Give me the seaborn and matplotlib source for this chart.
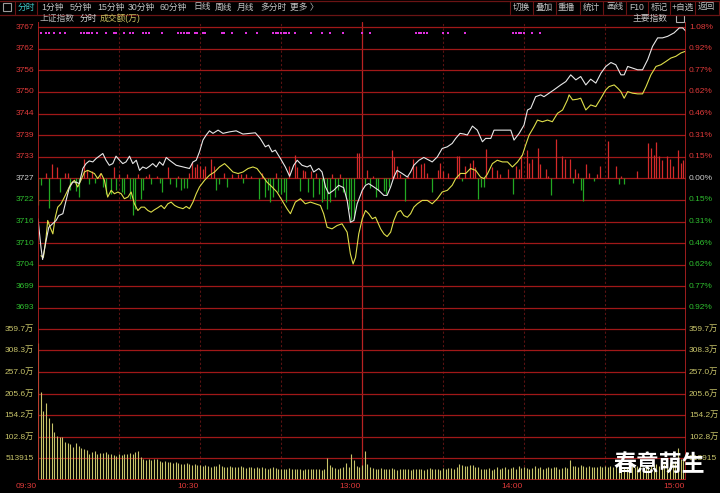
import matplotlib
matplotlib.use("Agg")
import matplotlib.pyplot as plt
from matplotlib.lines import Line2D
from matplotlib.patches import Rectangle
import seaborn as sns

# ---- values (上证指数 分时, minutes after 09:30) ----
white_min = [0.0, 1.1, 1.7, 3.0, 4.0, 5.5, 6.7, 7.7, 9.2, 10.4, 11.6, 12.9, 14.1, 15.3, 16.6, 17.8, 19.0, 20.3,
             21.5, 22.7, 24.0, 25.2, 26.4, 27.7, 28.9, 30.2, 31.4, 32.6, 33.9, 35.1, 36.4, 37.6, 38.8, 40.1,
             41.3, 42.5, 43.8, 45.0, 46.3, 47.5, 48.7, 50.0, 51.2, 53.7, 56.1, 57.4, 58.6, 59.8, 61.1, 62.3,
             63.5, 64.8, 66.7, 68.5, 71.0, 73.4, 75.9, 78.4, 80.5, 82.3, 84.2, 85.4, 86.7, 87.9, 89.8, 91.6,
             93.2, 94.7, 96.0, 97.8, 99.7, 100.9, 102.1, 104.0, 105.2, 106.5, 107.7, 109.5, 111.4, 113.2,
             114.5, 115.7, 117.0, 118.2, 120.1, 121.3, 122.5, 124.4, 126.2, 128.1, 129.3, 130.6, 131.8,
             133.0, 134.9, 136.8, 138.0, 139.2, 141.1, 142.9, 144.8, 146.0, 147.9, 149.7, 151.6, 153.4,
             154.7, 156.3, 157.8, 159.0, 160.9, 162.7, 164.6, 165.8, 167.7, 168.9, 170.7, 172.6, 175.1,
             176.3, 178.2, 180.0, 181.3, 182.5, 184.3, 186.2, 187.4, 189.3, 191.1, 193.6, 195.5, 197.3,
             199.2, 201.0, 202.9, 204.7, 206.6, 208.5, 210.3, 212.2, 214.0, 215.9, 217.1, 218.4, 220.2,
             222.1, 223.9, 225.8, 227.6, 229.5, 231.3, 233.2, 235.6, 237.5, 238.8, 240.0]
white_pct = [-0.289, -0.493, -0.580, -0.445, -0.350, -0.323, -0.301, -0.266, -0.253, -0.158, -0.067, -0.027,
             -0.027, -0.038, 0.070, 0.105, 0.124, 0.117, 0.141, 0.158, 0.177, 0.129, 0.093, 0.105, 0.158,
             0.129, 0.105, 0.117, 0.158, 0.105, 0.129, 0.057, 0.081, 0.070, 0.086, 0.105, 0.081, 0.117,
             0.093, 0.149, 0.129, 0.110, 0.093, 0.081, 0.070, 0.117, 0.129, 0.189, 0.273, 0.309, 0.339,
             0.321, 0.344, 0.321, 0.332, 0.339, 0.316, 0.321, 0.325, 0.285, 0.225, 0.237, 0.189, 0.201,
             0.141, 0.081, 0.014, 0.093, 0.129, 0.093, 0.081, 0.093, 0.045, 0.070, 0.045, -0.062, -0.110,
             -0.086, -0.050, -0.067, -0.158, -0.314, -0.301, -0.182, -0.086, -0.050, -0.038, -0.062, -0.086,
             -0.122, -0.122, -0.062, 0.009, 0.057, 0.034, 0.009, 0.045, 0.093, 0.129, 0.149, 0.129, 0.117,
             0.153, 0.213, 0.225, 0.249, 0.285, 0.321, 0.316, 0.309, 0.373, 0.344, 0.261, 0.285, 0.285,
             0.344, 0.344, 0.344, 0.344, 0.273, 0.321, 0.380, 0.488, 0.500, 0.583, 0.596, 0.583, 0.608,
             0.632, 0.667, 0.691, 0.739, 0.703, 0.727, 0.667, 0.708, 0.680, 0.751, 0.799, 0.827, 0.811,
             0.739, 0.739, 0.799, 0.787, 0.775, 0.775, 0.847, 0.942, 1.003, 1.003, 1.014, 1.039, 1.074,
             1.074, 1.050]

yellow_min = [1.1, 2.0, 3.0, 3.6, 4.5, 5.5, 6.4, 7.3, 8.5, 9.8, 11.0, 12.2, 13.5, 14.7, 15.9, 17.2, 18.4, 19.7,
              20.9, 22.1, 23.4, 24.6, 25.8, 27.1, 28.3, 29.6, 30.8, 32.0, 33.3, 34.5, 35.7, 37.0, 38.2, 39.4,
              40.7, 41.9, 43.1, 44.4, 45.6, 46.8, 48.1, 49.3, 50.6, 51.8, 53.7, 54.9, 56.1, 57.4, 58.6, 59.8,
              61.7, 63.5, 65.4, 67.2, 69.1, 70.4, 72.2, 74.1, 75.9, 77.8, 79.6, 81.1, 83.0, 84.8, 86.7, 88.5,
              90.4, 92.2, 93.5, 95.3, 97.2, 99.0, 100.9, 102.7, 104.6, 105.8, 107.1, 108.9, 110.8, 112.6,
              114.5, 115.7, 116.7, 117.6, 118.8, 120.1, 121.3, 122.5, 123.8, 125.0, 126.9, 128.1, 129.3,
              130.6, 131.8, 133.1, 134.3, 135.5, 136.8, 138.0, 139.2, 140.5, 142.3, 144.2, 146.0, 147.9,
              149.7, 151.6, 153.4, 154.7, 156.5, 158.4, 160.2, 162.1, 163.9, 165.2, 166.4, 168.3, 170.1,
              172.0, 173.9, 175.7, 177.6, 179.4, 180.6, 181.9, 183.7, 185.0, 186.8, 188.7, 190.5, 192.4,
              194.3, 196.1, 196.7, 198.0, 199.8, 201.0, 202.9, 204.7, 206.6, 208.5, 210.3, 211.5, 213.4,
              214.7, 215.9, 217.1, 218.4, 220.2, 222.1, 223.9, 225.2, 227.0, 228.9, 230.7, 232.6, 234.4,
              236.2, 238.1, 239.6]
yellow_pct = [-0.553, -0.565, -0.421, -0.301, -0.350, -0.397, -0.278, -0.206, -0.182, -0.134, -0.086, -0.038,
              -0.014, -0.062, -0.014, 0.045, 0.057, 0.045, 0.034, -0.002, 0.034, -0.014, -0.134, -0.086,
              -0.110, -0.098, -0.110, -0.146, -0.134, -0.098, -0.182, -0.230, -0.206, -0.206, -0.230, -0.242,
              -0.225, -0.210, -0.194, -0.217, -0.182, -0.170, -0.194, -0.206, -0.217, -0.201, -0.217, -0.170,
              -0.110, -0.062, -0.014, 0.022, 0.045, 0.081, 0.105, 0.081, 0.045, 0.034, 0.045, 0.070, 0.081,
              0.070, 0.022, -0.027, -0.062, -0.098, -0.158, -0.217, -0.253, -0.170, -0.146, -0.182, -0.170,
              -0.182, -0.194, -0.253, -0.350, -0.361, -0.337, -0.325, -0.385, -0.540, -0.612, -0.565, -0.397,
              -0.289, -0.230, -0.253, -0.289, -0.278, -0.361, -0.397, -0.416, -0.385, -0.301, -0.242, -0.230,
              -0.266, -0.278, -0.253, -0.206, -0.182, -0.158, -0.158, -0.182, -0.146, -0.098, -0.086, -0.050,
              -0.002, 0.035, 0.034, 0.070, 0.057, 0.009, -0.002, 0.029, 0.105, 0.129, 0.117, 0.117, 0.081,
              0.117, 0.165, 0.237, 0.309, 0.368, 0.416, 0.404, 0.416, 0.404, 0.464, 0.488, 0.560, 0.596,
              0.560, 0.565, 0.572, 0.488, 0.524, 0.512, 0.572, 0.632, 0.655, 0.667, 0.644, 0.619, 0.572,
              0.619, 0.608, 0.603, 0.603, 0.655, 0.739, 0.799, 0.811, 0.835, 0.859, 0.871, 0.895, 0.906]

# red (buy) / green (sell) force bars around the 0.00% line
force_min = [0, 1, 3, 4, 5, 7, 8, 10, 11, 12, 14, 15, 17, 18, 19, 20, 21, 23, 24, 25, 27, 28, 29, 30, 31, 32,
             33, 34, 35, 36, 37, 38, 39, 40, 41, 42, 44, 45, 46, 48, 49, 51, 52, 53, 54, 55, 56, 57, 58, 59,
             60, 61, 62, 64, 65, 66, 67, 69, 70, 72, 74, 75, 76, 77, 79, 82, 83, 84, 85, 86, 87, 88, 89, 90,
             91, 92, 93, 95, 96, 97, 98, 99, 100, 101, 102, 103, 104, 105, 106, 107, 108, 109, 110, 111, 112,
             113, 114, 115, 116, 117, 118, 119, 121, 122, 123, 124, 125, 126, 128, 129, 130, 131, 132, 133,
             134, 136, 137, 139, 140, 142, 143, 144, 146, 148, 149, 150, 152, 155, 156, 157, 158, 160, 161,
             162, 163, 164, 165, 166, 168, 170, 171, 174, 176, 177, 178, 179, 181, 182, 183, 185, 186, 188,
             189, 190, 192, 194, 195, 197, 198, 199, 200, 201, 202, 203, 204, 206, 207, 208, 211, 214, 215,
             216, 217, 222, 226, 227, 228, 229, 230, 231, 233, 234, 235, 237, 238, 239]
force_val = [-0.19, -0.05, 0.04, -0.21, 0.10, 0.08, -0.10, 0.04, 0.04, -0.08, -0.09, -0.13, 0.14, 0.06, -0.04,
             0.05, -0.03, 0.04, -0.06, -0.11, -0.11, 0.08, -0.08, 0.03, -0.10, -0.11, 0.03, -0.15, -0.26,
             -0.22, 0.03, -0.15, -0.08, 0.02, 0.03, -0.04, 0.02, -0.03, -0.10, 0.08, -0.04, -0.06, 0.02,
             -0.08, -0.07, -0.07, 0.04, 0.12, 0.08, 0.10, 0.09, 0.07, 0.09, 0.14, 0.09, -0.08, -0.04, 0.04,
             -0.06, 0.03, 0.03, 0.03, -0.03, 0.03, 0.02, -0.15, 0.04, -0.13, -0.08, -0.17, -0.13, 0.04, -0.10,
             -0.11, -0.10, -0.17, 0.09, 0.17, 0.08, -0.09, 0.06, 0.05, -0.10, 0.05, -0.13, 0.04, -0.11, -0.17,
             -0.15, -0.22, -0.17, 0.03, -0.13, -0.08, 0.03, -0.10, -0.15, -0.22, -0.30, -0.28, 0.18, 0.18,
             -0.04, 0.06, -0.07, 0.02, -0.13, -0.08, -0.09, -0.11, -0.06, 0.20, 0.15, 0.09, 0.03, -0.16, 0.02,
             0.14, 0.09, 0.10, 0.11, 0.04, -0.10, 0.06, 0.11, 0.05, 0.04, 0.16, 0.16, -0.02, 0.09, 0.11, 0.13,
             0.08, -0.15, -0.06, -0.06, 0.21, 0.08, 0.06, 0.03, 0.07, -0.11, 0.09, 0.07, 0.17, 0.20, 0.11,
             0.14, 0.22, 0.10, 0.07, 0.02, -0.12, 0.28, 0.16, 0.14, 0.14, -0.03, 0.07, 0.04, -0.08, -0.16,
             0.10, 0.04, -0.02, 0.03, 0.09, 0.27, 0.09, -0.04, 0.02, -0.04, 0.05, 0.25, 0.22, 0.17, 0.26, 0.16,
             0.13, 0.16, 0.14, 0.09, 0.20, 0.11, 0.13]

# 成交额 per minute, in 万
vol_wan = [327, 210, 163, 184, 147, 135, 115, 105, 102, 103, 91, 87, 86, 79, 87, 81, 75, 73, 71, 63,
           66, 70, 62, 65, 65, 67, 62, 63, 59, 56,
           62, 60, 63, 61, 64, 62, 66, 70, 55, 50, 48, 50, 47, 51, 49, 45, 44, 46, 42, 43,
           41, 42, 40, 39, 38, 40, 37, 36, 38, 36,
           35, 34, 36, 33, 32, 34, 33, 37, 34, 32, 31, 33, 30, 32, 31, 33, 30, 29, 31, 30,
           28, 30, 29, 31, 28, 27, 29, 30, 28, 27,
           26, 27, 25, 28, 26, 27, 25, 26, 24, 26, 25, 27, 26, 25, 27, 24, 26, 52, 35, 30,
           28, 27, 29, 30, 40, 32, 61, 48, 33, 30,
           35, 70, 38, 30, 28, 27, 26, 28, 25, 27, 26, 28, 25, 24, 26, 27, 25, 26, 24, 25,
           27, 26, 25, 24, 26, 28, 27, 26, 25, 24,
           28, 27, 29, 28, 26, 30, 38, 36, 33, 34, 35, 36, 32, 30, 27, 26, 25, 28, 24, 26,
           31, 27, 29, 30, 26, 28, 32, 27, 33, 29,
           30, 28, 27, 29, 33, 28, 30, 27, 29, 31, 28, 30, 32, 27, 29, 30, 28, 48, 34, 33,
           32, 35, 33, 31, 34, 32, 30, 31, 33, 32,
           33, 31, 34, 30, 32, 35, 33, 31, 30, 32, 34, 31, 33, 35, 32, 34, 36, 33, 35, 37,
           34, 36, 38, 40, 42, 39, 45, 75, 50, 48, 117]

# magenta marks along the top edge
dot_min = [1, 3, 4, 6, 8, 10, 16, 17, 18, 19, 20, 22, 25, 28, 29, 32, 34, 35, 39, 40, 41, 46, 52, 53, 54,
           55, 56, 58, 59, 61, 62, 68, 69, 72, 77, 81, 87, 88, 89, 90, 91, 92, 93, 95, 101, 105, 108, 113,
           120, 123, 140, 141, 142, 143, 144, 150, 152, 158, 176, 177, 178, 179, 180, 183, 186]
dot_pct = 1.04

price_labels = ["3693", "3699", "3704", "3710", "3716", "3722", "3727",
                "3733", "3739", "3744", "3750", "3756", "3762", "3767"]
pct_labels = ["0.92%", "0.77%", "0.62%", "0.46%", "0.31%", "0.15%", "0.00%",
              "0.15%", "0.31%", "0.46%", "0.62%", "0.77%", "0.92%", "1.08%"]
vol_labels = ["513915", "102.8万", "154.2万", "205.6万", "257.0万", "308.3万", "359.7万"]
time_ticks = [0, 60, 120, 180, 240]
time_labels = ["09:30", "10:30", "13:00", "14:00", "15:00"]

menu_left = ["分时", "1分钟", "5分钟", "15分钟", "30分钟", "60分钟", "日线", "周线", "月线", "多分时", "更多 〉"]
menu_right = ["切换", "叠加", "重播", "统计", "画线", "F10", "标记", "+自选", "返回"]

# ---- style ----
sns.set_style("dark", {"axes.facecolor": "black", "figure.facecolor": "black"})
plt.rcParams["font.family"] = ["Liberation Sans", "Noto Sans CJK SC", "DejaVu Sans"]

GRID = "#a01818"
RED = "#e03a3a"
GREEN = "#2fbf2f"
GREY = "#cfcfcf"
VOLC = "#c8c46a"

W, H = 720, 493
fig = plt.figure(figsize=(7.2, 4.93), dpi=100, facecolor="black")

step = 1.08 / 7          # percent per grid row
vstep = 51.3915          # 万 per grid row
px_row = 21.6            # pixels per grid row

ax_p = fig.add_axes([38 / W, 1 - 319 / H, 648 / W, (319 - 22) / H])
ax_v = fig.add_axes([38 / W, 1 - 480 / H, 648 / W, 161 / H], sharex=ax_p)

for ax in (ax_p, ax_v):
    ax.set_facecolor("black")
    ax.set_xlim(0, 240)
    for s in ax.spines.values():
        s.set_visible(False)
    ax.tick_params(left=False, bottom=False, labelleft=False, labelbottom=False)
    ax.grid(False)
    for m in (30, 60, 90, 150, 180, 210):
        ax.axvline(m, color="#5a1212", lw=0.8, ls=(0, (2, 2)), zorder=1)
    ax.axvline(120, color="#b82222", lw=0.9, zorder=1)
    ax.axvline(0, color="#b82222", lw=1.2, zorder=5)
    ax.axvline(240, color="#b82222", lw=1.2, zorder=5)

ax_p.set_ylim((178.3 - 319) / px_row * step, (178.3 - 22) / px_row * step)
ax_v.set_ylim(0, 161 / px_row * vstep)

# price panel grid and labels
ytr = ax_p.get_yaxis_transform()
for k, (pl, cl) in enumerate(zip(price_labels, pct_labels)):
    lvl = (k - 6) * step
    ax_p.axhline(lvl, color=GRID, lw=0.9, zorder=1)
    col = RED if k > 6 else (GREY if k == 6 else GREEN)
    ax_p.text(-4 / 648, lvl, pl, transform=ytr, ha="right", va="center", fontsize=6, color=col)
    ax_p.text(1 + 3 / 648, lvl, cl, transform=ytr, ha="left", va="center", fontsize=6, color=col)

# force bars
up_m = [m for m, v in zip(force_min, force_val) if v > 0]
up_v = [v for v in force_val if v > 0]
dn_m = [m for m, v in zip(force_min, force_val) if v < 0]
dn_v = [v for v in force_val if v < 0]
ax_p.vlines(up_m, 0, up_v, color="#d42a2a", lw=0.9, zorder=2)
ax_p.vlines(dn_m, dn_v, 0, color="#22a822", lw=0.9, zorder=2)

# index (white) and average (yellow) lines
sns.lineplot(x=white_min, y=white_pct, ax=ax_p, color="#e8e8e8", lw=0.8, estimator=None, sort=False, zorder=4)
sns.lineplot(x=yellow_min, y=yellow_pct, ax=ax_p, color="#dede4a", lw=0.8, estimator=None, sort=False, zorder=3)

sns.scatterplot(x=dot_min, y=[dot_pct] * len(dot_min), ax=ax_p, marker="s", s=3,
                color="#e030e0", linewidth=0, zorder=4)
ax_p.set_xlabel("")
ax_p.set_ylabel("")

# volume panel
vtr = ax_v.get_yaxis_transform()
for k, lab in enumerate(vol_labels, start=1):
    lvl = k * vstep
    ax_v.axhline(lvl, color=GRID, lw=0.9, zorder=1)
    ax_v.text(-4 / 648, lvl, lab, transform=vtr, ha="right", va="center", fontsize=6, color=VOLC)
    ax_v.text(1 + 3 / 648, lvl, lab, transform=vtr, ha="left", va="center", fontsize=6, color=VOLC)
ax_v.axhline(0, color="#b82222", lw=1.2, zorder=5)
ax_v.vlines(range(len(vol_wan)), 0, vol_wan, color=VOLC, lw=0.8, zorder=2)

xtr = ax_v.get_xaxis_transform()
for m, lab in zip(time_ticks, time_labels):
    ax_v.text(m - 0.5, -6 / 161, lab, transform=xtr, ha="right", va="center", fontsize=6, color=RED)

# ---- header bars ----
def px(x, y):
    return x / W, 1 - y / H

fig.add_artist(Line2D([0, 1], [1 - 14.5 / H] * 2, color="#6a1414", lw=0.9))
fig.add_artist(Line2D([0, 1], [1 - 0.5 / H] * 2, color="#6a1414", lw=0.9))
fig.add_artist(Rectangle(px(3, 11), 8 / W, 8 / H, fill=False, ec="#9a9a9a", lw=0.8))
for x in (15, 37, 510, 533, 556, 580, 603, 626, 648, 670, 695, 719):
    fig.add_artist(Line2D([x / W] * 2, [1 - 14 / H, 1 - 1 / H], color="#6a1414", lw=0.8))

left_x = [18, 41, 70, 97, 128, 160, 193, 215, 237, 260, 290]
for x, t in zip(left_x, menu_left):
    fig.text(*px(x, 7), t, fontsize=6.3, color="#3ec6c6" if t == "分时" else "#c4c4c4", va="center")
right_x = [513, 536, 558, 583, 606, 629, 651, 672, 698]
for x, t in zip(right_x, menu_right):
    fig.text(*px(x, 7), t, fontsize=6.2, color="#c4c4c4", va="center")

fig.text(*px(40, 18.5), "上证指数", fontsize=6.3, color="#b4b4b4", va="center")
fig.text(*px(80, 18.5), "分时", fontsize=6.3, color="#d4d4d4", va="center")
fig.text(*px(100, 18.5), "成交额(万)", fontsize=6.3, color="#c8c060", va="center")
fig.text(*px(633, 18.5), "主要指数", fontsize=6.3, color="#c4c4c4", va="center")
fig.add_artist(Rectangle(px(676, 22), 8 / W, 7 / H, fill=False, ec="#b0b0b0", lw=0.8))

fig.text(*px(659, 465), "春意萌生", fontsize=16.5, color="white", ha="center", va="center",
         fontweight="bold", family=["Noto Sans CJK SC", "DejaVu Sans"])

fig.savefig("out.png", dpi=100, facecolor="black")
